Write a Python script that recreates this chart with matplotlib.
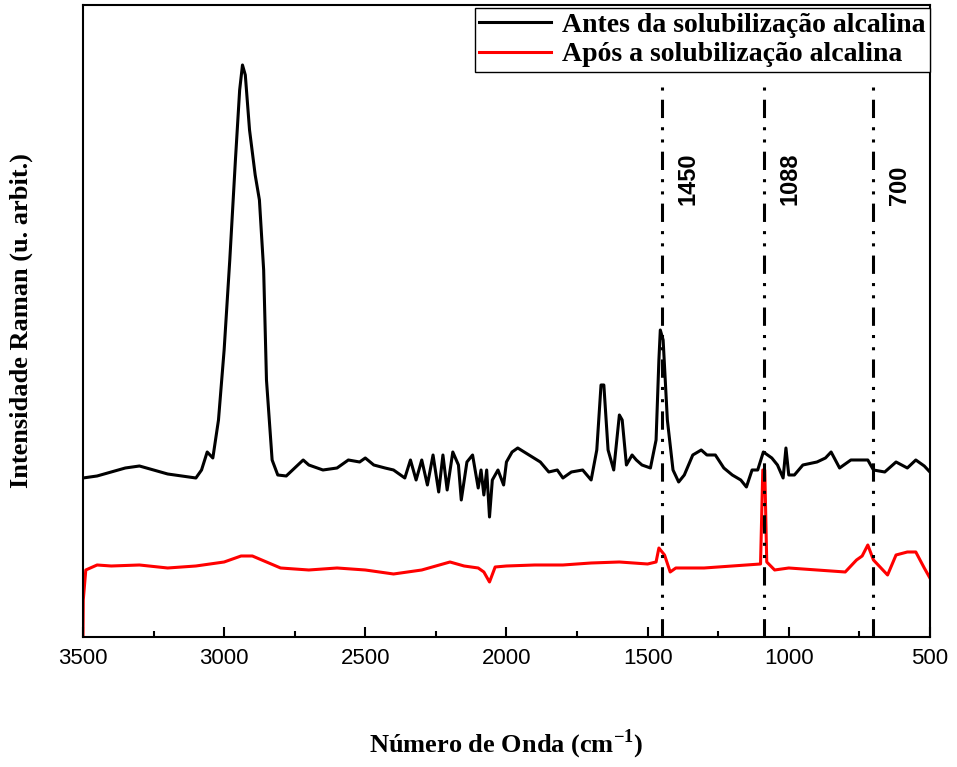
import numpy as np
from matplotlib import pyplot as plt
from matplotlib.ticker import MultipleLocator

plt.rcParams["mathtext.fontset"] = "custom"
plt.rcParams["mathtext.bf"] = "Liberation Serif:bold"
plt.rcParams["mathtext.rm"] = "Liberation Serif:bold"

# intensities (arbitrary units)
wn_antes = [3500, 3450, 3400, 3350, 3300, 3250, 3200, 3150, 3100, 3080, 3060, 3040, 3020, 3000,
            2980, 2960, 2945, 2935, 2925, 2910, 2890, 2875, 2860, 2850, 2830, 2810, 2780, 2750,
            2720, 2700, 2650, 2600, 2560, 2520, 2500, 2470, 2430, 2400, 2360, 2340, 2320, 2300,
            2280, 2260, 2240, 2225, 2210, 2190, 2170, 2160, 2140, 2120, 2100, 2090, 2080, 2070,
            2060, 2050, 2030, 2010, 2000, 1980, 1960, 1920, 1880, 1850, 1820, 1800, 1770, 1730,
            1700, 1680, 1665, 1655, 1640, 1620, 1600, 1590, 1575, 1555, 1540, 1520, 1490, 1470,
            1460, 1455, 1445, 1430, 1410, 1390, 1370, 1340, 1310, 1290, 1260, 1230, 1200, 1170,
            1150, 1130, 1110, 1090, 1060, 1040, 1020, 1010, 1000, 980, 950, 900, 870, 850, 820,
            780, 720, 700, 660, 620, 580, 550, 520, 500]
px_antes = [478, 476, 472, 468, 466, 470, 474, 476, 478, 470, 452, 458, 420, 350,
            260, 160, 90, 65, 75, 130, 175, 200, 270, 380, 460, 475, 476, 468,
            460, 465, 470, 468, 460, 462, 458, 465, 468, 470, 478, 460, 480, 460,
            485, 455, 492, 455, 490, 452, 465, 500, 462, 455, 488, 470, 495, 470,
            517, 480, 470, 485, 462, 452, 448, 455, 462, 472, 470, 478, 472, 470,
            480, 450, 385, 385, 450, 470, 415, 420, 465, 455, 460, 465, 468, 440,
            360, 330, 340, 420, 470, 482, 475, 455, 450, 455, 455, 468, 475, 480,
            487, 470, 470, 452, 458, 465, 478, 448, 475, 475, 465, 462, 458, 452, 468,
            460, 460, 470, 472, 462, 468, 460, 466, 472]

wn_apos = [3500, 3499, 3490, 3450, 3400, 3300, 3200, 3100, 3000, 2940, 2900, 2850, 2800, 2700,
           2600, 2500, 2400, 2300, 2200, 2150, 2100, 2080, 2060, 2040, 2000, 1900, 1800, 1700,
           1600, 1500, 1470, 1460, 1440, 1420, 1400, 1300, 1200, 1100, 1092, 1085, 1078, 1050,
           1000, 900, 800, 760, 740, 720, 700, 650, 620, 580, 550, 520, 500]
px_apos = [637, 600, 570, 565, 566, 565, 568, 566, 562, 556, 556, 562, 568, 570,
           568, 570, 574, 570, 562, 566, 568, 572, 582, 567, 566, 565, 565, 563,
           562, 564, 562, 548, 555, 572, 568, 568, 566, 564, 470, 470, 562, 570,
           568, 570, 572, 560, 556, 545, 560, 575, 555, 552, 552, 568, 578]

picos = [1450, 1088, 700]

y_antes = 637 - np.array(px_antes)
y_apos = 637 - np.array(px_apos)

fig = plt.figure(figsize=(9.57, 7.67), dpi=100)
ax = fig.add_axes([0.0867, 0.1695, 0.885, 0.824])

ax.plot(wn_antes, y_antes, color="black", lw=2.2, label="Antes da solubilização alcalina")
ax.plot(wn_apos, y_apos, color="red", lw=2.2, label="Após a solubilização alcalina")

for p in picos:
    ax.axvline(p, color="black", lw=2.2, ls=(0, (6, 3, 1, 3, 1, 3)), ymax=0.885)
    ax.text(p - 92, 432, str(p), rotation=90, va="bottom", ha="center",
            fontdict={"family": "Liberation Sans", "weight": "bold", "size": 17})

ax.set_xlim(3500, 500)
ax.set_ylim(0, 632)
ax.set_yticks([])
ax.xaxis.set_major_locator(MultipleLocator(500))
ax.xaxis.set_minor_locator(MultipleLocator(250))
ax.tick_params(axis="x", which="major", direction="in", length=7, width=1.5,
               labelsize=16, pad=8)
ax.tick_params(axis="x", which="minor", direction="in", length=4, width=1.5)
for lab in ax.get_xticklabels():
    lab.set_family("Liberation Sans")
for s in ax.spines.values():
    s.set_linewidth(1.5)

ax.set_xlabel("Número de Onda (cm$^{\\mathbf{-1}}$)", fontsize=19, fontweight="bold",
              family="Liberation Serif", labelpad=42)
ax.set_ylabel("Intensidade Raman (u. arbit.)", fontsize=19, fontweight="bold",
              family="Liberation Serif", labelpad=36)

leg = ax.legend(loc="upper right", bbox_to_anchor=(1.0, 0.995), fancybox=False,
                framealpha=1, edgecolor="black", borderaxespad=0, handlelength=2.6,
                prop={"family": "Liberation Serif", "weight": "bold", "size": 20},
                borderpad=0.15, labelspacing=0.15, handletextpad=0.4)
leg.get_frame().set_linewidth(1.0)

fig.savefig("out.png", dpi=100)
